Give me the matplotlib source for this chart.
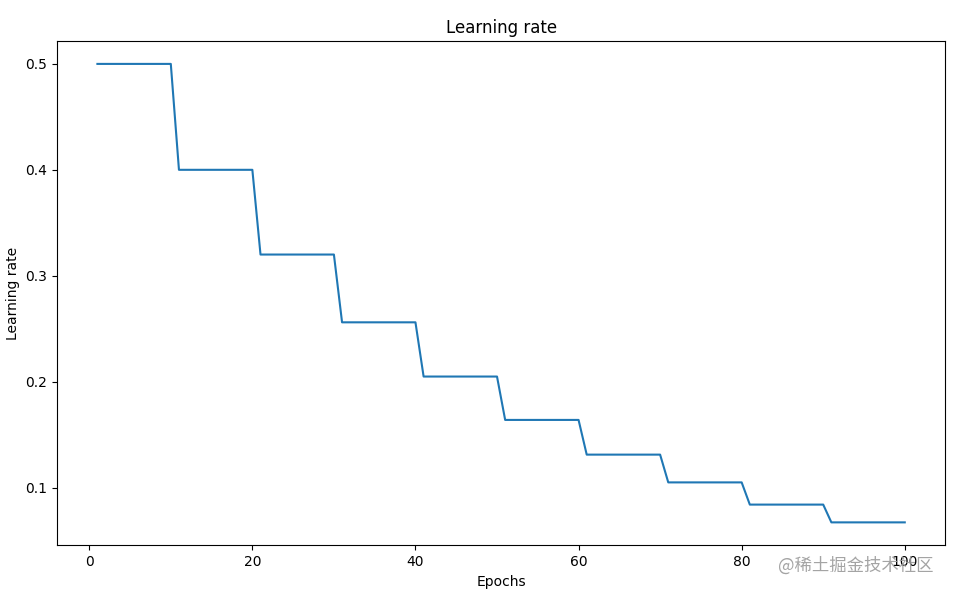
#!/usr/bin/env python3
# -*- coding: utf-8 -*-

"""Step-decay learning rate schedule over 100 epochs."""

import matplotlib
matplotlib.use("Agg")
import matplotlib.pyplot as plt
import numpy as np

# learning-rate level held for each block of epochs
LR_LEVELS = [0.5, 0.4, 0.32, 0.256, 0.2048, 0.16384, 0.131072, 0.1048576, 0.08388608, 0.067108864]
EPOCHS_PER_LEVEL = [10, 10, 10, 10, 10, 10, 10, 10, 10, 10]
FIRST_EPOCH = 1

WATERMARK = "@稀土掘金技术社区"


def main() -> int:
    lr = np.repeat(LR_LEVELS, EPOCHS_PER_LEVEL)
    epochs = np.arange(FIRST_EPOCH, FIRST_EPOCH + len(lr))

    fig = plt.figure(figsize=(9.57, 5.94), dpi=100)
    ax = fig.add_axes([0.0596, 0.082, 0.928, 0.849])
    ax.plot(epochs, lr, color="#1f77b4", lw=1.5)
    ax.set_title("Learning rate")
    ax.set_xlabel("Epochs")
    ax.set_ylabel("Learning rate")

    fig.text(0.8125, 0.047, WATERMARK, fontsize=12.5, color="#9a9a9a", alpha=0.9,
             family=["Noto Sans CJK SC", "DejaVu Sans"], ha="left", va="center")

    fig.savefig("out.png", dpi=100)
    plt.close(fig)
    return 0


if __name__ == "__main__":
    raise SystemExit(main())
